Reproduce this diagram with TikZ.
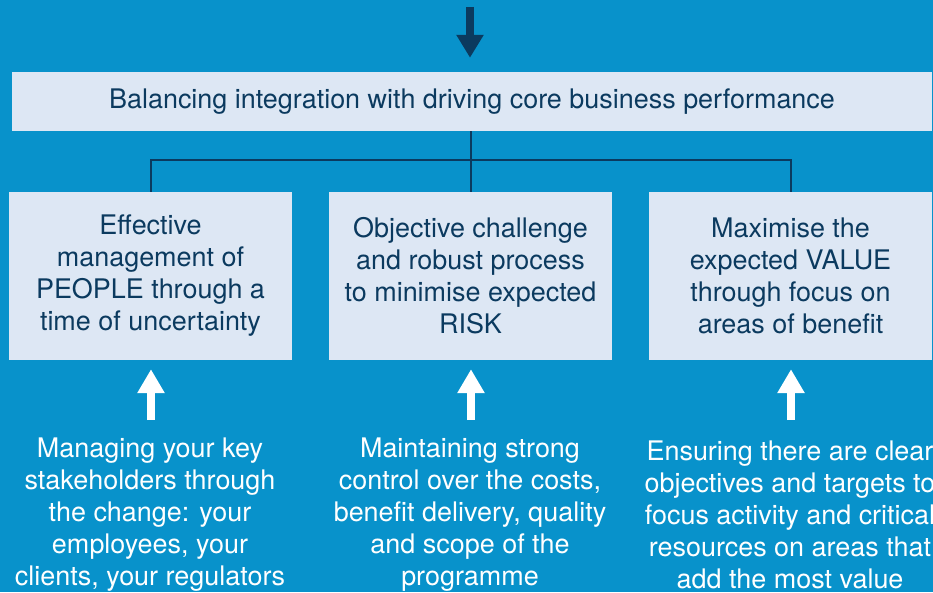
\documentclass[tikz,border=0pt]{standalone}
\usepackage{fontspec}
\setmainfont{TeX Gyre Heros}
\usetikzlibrary{arrows.meta}
\definecolor{bgblue}{HTML}{0892CB}
\definecolor{boxfill}{HTML}{DDE7F4}
\definecolor{navy}{HTML}{0B3A5F}
\tikzset{
  panel/.style={fill=boxfill, text=navy, align=center, inner sep=0pt,
    font=\fontsize{23}{27.3}\selectfont},
  wide/.style={panel, minimum width=27.6cm, minimum height=1.77cm},
  pillar/.style={panel, minimum width=8.49cm, minimum height=5.04cm},
  note/.style={text=white, align=center, inner sep=0pt,
    font=\fontsize{23}{27.3}\selectfont},
  link/.style={draw=navy, line width=0.06cm},
  uparrow/.style={draw=white, line width=0.24cm, shorten >=0.27cm,
    -{Triangle[width=0.78cm,length=0.72cm]}},
  downarrow/.style={draw=navy, line width=0.24cm, shorten >=0.42cm,
    -{Triangle[width=0.78cm,length=0.69cm]}}
}
\begin{document}
\begin{tikzpicture}[x=0.03cm,y=-0.03cm]
  \fill[bgblue] (0,0) rectangle (933,592);
  \clip (0,0) rectangle (933,592);
  % boxes
  \node[wide] (bal) at (472,101.5)
    {Balancing integration with driving core business performance};
  \node[pillar] (people) at (150.5,276)
    {Effective\\management of\\PEOPLE through a\\time of uncertainty};
  \node[pillar] (risk) at (470.5,276)
    {Objective challenge\\and robust process\\to minimise expected\\RISK};
  \node[pillar] (value) at (790.5,276)
    {Maximise the\\expected VALUE\\through focus on\\areas of benefit};
  % notes
  \node[note] (stake) at (150,515)
    {Managing your key\\stakeholders through\\the change: your\\employees, your\\clients, your regulators};
  \node[note] (control) at (470,515)
    {Maintaining strong\\control over the costs,\\benefit delivery, quality\\and scope of the\\programme};
  \node[note] (focus) at (790,515)
    {Ensuring there are clear\\objectives and targets to\\focus activity and critical\\resources on areas that\\add the most value};
  \coordinate (entry) at (470,7);
  \coordinate (bus) at (0,160);
  \coordinate (tail1) at (151,420);
  \coordinate (tail2) at (471,420);
  \coordinate (tail3) at (791,420);
  % connectors
  \draw[downarrow] (entry) -- (entry |- bal.north);
  \draw[link] (people.north) |- (bus -| value.north) -- (value.north);
  \draw[link] (risk.north |- bal.south) -- (risk.north);
  \draw[uparrow] (tail1) -- (tail1 |- people.south);
  \draw[uparrow] (tail2) -- (tail2 |- risk.south);
  \draw[uparrow] (tail3) -- (tail3 |- value.south);
\end{tikzpicture}
\end{document}
